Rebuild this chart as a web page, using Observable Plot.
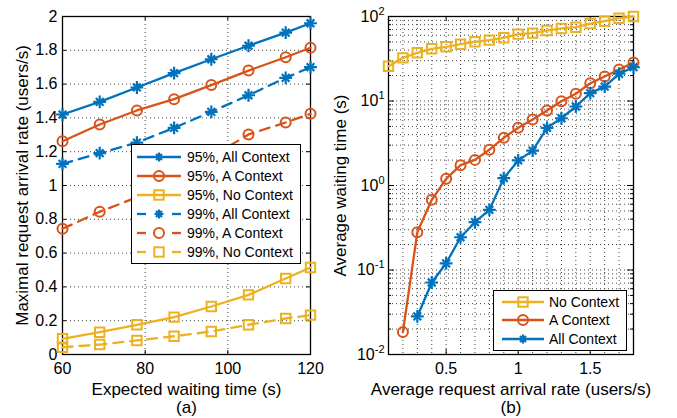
<!DOCTYPE html>
<html>
<head>
<meta charset="utf-8">
<script src="https://cdn.jsdelivr.net/npm/d3@7"></script>
<script src="https://cdn.jsdelivr.net/npm/@observablehq/plot@0.6"></script>
<style>
  html, body { margin: 0; padding: 0; background: #fff; }
  #wrap { position: relative; width: 677px; height: 418px; display: flex; font-family: 'Liberation Sans', Arial, Helvetica, sans-serif; color: #000; }
  .legend { position: absolute; background: #fff; border: 1px solid #000; box-sizing: border-box; font-size: 14px; }
  .legend .row { display: flex; align-items: center; }
  .legend svg { display: block; flex: none; }
</style>
</head>
<body>
<div id="wrap"></div>
<script>
// ---------- data: panel (a) ----------
const waitX = [60, 69, 78, 87, 96, 105, 114, 120];
const all95 = [1.42, 1.495, 1.58, 1.665, 1.747, 1.827, 1.905, 1.96];
const a95   = [1.262, 1.361, 1.444, 1.511, 1.594, 1.68, 1.759, 1.815];
const no95  = [0.093, 0.132, 0.176, 0.221, 0.284, 0.353, 0.45, 0.515];
const all99 = [1.128, 1.191, 1.254, 1.341, 1.436, 1.534, 1.637, 1.70];
const a99   = [0.744, 0.845, 0.93, 1.04, 1.17, 1.302, 1.373, 1.424];
const no99  = [0.043, 0.059, 0.083, 0.108, 0.136, 0.176, 0.213, 0.233];
const xTicksA = [60, 80, 100, 120];
const yTicksA = [0, 0.2, 0.4, 0.6, 0.8, 1, 1.2, 1.4, 1.6, 1.8, 2];
const legendA = ["95%, All Context", "95%, A Context", "95%, No Context", "99%, All Context", "99%, A Context", "99%, No Context"];

// ---------- data: panel (b) ----------
const rateX  = [0.1, 0.2, 0.3, 0.4, 0.5, 0.6, 0.7, 0.8, 0.9, 1.0, 1.1, 1.2, 1.3, 1.4, 1.5, 1.6, 1.7, 1.8];
const noCtx  = [25.8, 32.4, 37.2, 41.5, 43.8, 47.0, 50.2, 52.5, 56.0, 61.8, 63.5, 68.2, 72.2, 74.7, 82.6, 88.0, 95.5, 100];
const aCtx   = [null, 0.0184, 0.28, 0.677, 1.2, 1.74, 2.01, 2.65, 3.67, 4.82, 6.04, 7.72, 9.95, 12.2, 16.2, 19.5, 23.6, 28.6];
const allCtx = [null, null, 0.0282, 0.0711, 0.120, 0.244, 0.368, 0.515, 1.22, 1.98, 2.59, 4.82, 6.25, 8.61, 12.4, 14.8, 21.0, 25.1];
const xTicksB = [0.5, 1, 1.5];
const yTicksB = [0.01, 0.1, 1, 10, 100];
const yTickExpB = ["-2", "-1", "0", "1", "2"];
const legendB = ["No Context", "A Context", "All Context"];

// ---------- style ----------
const font = "'Liberation Sans', Arial, Helvetica, sans-serif";
const blue = "#0072BD", orange = "#D95319", yellow = "#EDB120";
const gridStyle = {stroke: "#444", strokeDasharray: "1,3", strokeWidth: 1};
const fmt = d3.format("~g");

function series(xs, ys, color, symbol, dash) {
  const rows = xs.map((x, i) => ({x, y: ys[i]})).filter(d => d.y != null);
  const marks = [Plot.line(rows, {x: "x", y: "y", stroke: color, strokeWidth: 2.3, strokeDasharray: dash, strokeLinejoin: "round"})];
  if (symbol === "asterisk") {
    marks.push(Plot.dot(rows, {x: "x", y: "y", stroke: color, strokeWidth: 2.2, symbol: "plus", r: 4.2}));
    marks.push(Plot.dot(rows, {x: "x", y: "y", stroke: color, strokeWidth: 2.2, symbol: "times", r: 3.6}));
  } else {
    marks.push(Plot.dot(rows, {x: "x", y: "y", stroke: color, strokeWidth: 2, symbol,
      r: symbol === "square" ? 5.3 : 5, fill: "none"}));
  }
  return marks;
}

function labels(xLabel, yLabel, sub, yDx) {
  return [
    Plot.text([xLabel], {text: d => d, frameAnchor: "bottom", dy: 35, fontSize: 17, lineAnchor: "middle", fill: "#000"}),
    Plot.text([sub], {text: d => d, frameAnchor: "bottom", dy: 53, fontSize: 17, lineAnchor: "middle", fill: "#000"}),
    Plot.text([yLabel], {text: d => d, frameAnchor: "left", dx: yDx, rotate: -90, fontSize: 17, textAnchor: "middle", lineAnchor: "middle", fill: "#000"})
  ];
}

// ---------- panel (a) ----------
const fwA = 248, fhA = 338;
const plotA = Plot.plot({
  width: 340, height: 418,
  marginLeft: 62, marginRight: 30, marginTop: 16, marginBottom: 64,
  style: {fontFamily: font, fontSize: "16px", color: "#000", background: "transparent", overflow: "visible"},
  x: {domain: [60, 120], ticks: xTicksA, tickFormat: fmt, label: null, tickSize: 0, tickPadding: 8},
  y: {domain: [0, 2], ticks: yTicksA, tickFormat: fmt, label: null, tickSize: 0, tickPadding: 5},
  marks: [
    Plot.ruleX(xTicksA.slice(1, -1), gridStyle),
    Plot.ruleY(yTicksA.slice(1, -1), gridStyle),
    Plot.tickY(yTicksA, {y: d => d, insetRight: fwA - 4, stroke: "#000"}),
    Plot.tickY(yTicksA, {y: d => d, insetLeft: fwA - 4, stroke: "#000"}),
    Plot.tickX(xTicksA, {x: d => d, insetTop: fhA - 4, stroke: "#000"}),
    Plot.tickX(xTicksA, {x: d => d, insetBottom: fhA - 4, stroke: "#000"}),
    Plot.frame({stroke: "#000", strokeWidth: 1.3}),
    ...series(waitX, all95, blue, "asterisk", null),
    ...series(waitX, a95, orange, "circle", null),
    ...series(waitX, no95, yellow, "square", null),
    ...series(waitX, all99, blue, "asterisk", "10,7"),
    ...series(waitX, a99, orange, "circle", "10,7"),
    ...series(waitX, no99, yellow, "square", "10,7"),
    ...labels("Expected waiting time (s)", "Maximal request arrival rate (users/s)", "(a)", -40)
  ]
});

// ---------- panel (b) ----------
const fwB = 245, fhB = 338;
const minorY = [];
for (let k = -2; k <= 1; k++) for (let m = 2; m <= 9; m++) minorY.push(m * Math.pow(10, k));
const minorX = d3.range(2, 18).map(i => i / 10);
const plotB = Plot.plot({
  width: 337, height: 418,
  marginLeft: 48, marginRight: 44, marginTop: 16, marginBottom: 64,
  style: {fontFamily: font, fontSize: "16px", color: "#000", background: "transparent", overflow: "visible"},
  x: {domain: [0.1, 1.8], ticks: xTicksB, tickFormat: fmt, label: null, tickSize: 0, tickPadding: 8},
  y: {type: "log", domain: [0.01, 100], ticks: yTicksB, tickFormat: d => "10^" + yTickExpB[yTicksB.indexOf(d)], label: null, tickSize: 0, tickPadding: 4},
  marks: [
    Plot.ruleX(minorX, gridStyle),
    Plot.ruleY(minorY.concat(yTicksB.slice(1, -1)), gridStyle),
    Plot.tickY(yTicksB, {y: d => d, insetRight: fwB - 6, stroke: "#000"}),
    Plot.tickY(yTicksB, {y: d => d, insetLeft: fwB - 6, stroke: "#000"}),
    Plot.tickY(minorY, {y: d => d, insetRight: fwB - 3, stroke: "#000"}),
    Plot.tickY(minorY, {y: d => d, insetLeft: fwB - 3, stroke: "#000"}),
    Plot.tickX(xTicksB, {x: d => d, insetTop: fhB - 5, stroke: "#000"}),
    Plot.tickX(xTicksB, {x: d => d, insetBottom: fhB - 5, stroke: "#000"}),
    Plot.frame({stroke: "#000", strokeWidth: 1.3}),
    ...series(rateX, noCtx, yellow, "square", null),
    ...series(rateX, aCtx, orange, "circle", null),
    ...series(rateX, allCtx, blue, "asterisk", null),
    ...labels("Average request arrival rate (users/s)", "Average waiting time (s)", "(b)", -48)
  ]
});

// superscript exponents on the log-axis tick labels
const svgns = "http://www.w3.org/2000/svg";
plotB.querySelectorAll("text").forEach(t => {
  const m = t.textContent.match(/^10\^(.+)$/);
  if (m) {
    t.textContent = "10";
    const ts = document.createElementNS(svgns, "tspan");
    ts.setAttribute("dy", "-7");
    ts.setAttribute("font-size", "11");
    ts.textContent = m[1];
    t.appendChild(ts);
  }
});

const wrap = document.getElementById("wrap");
wrap.appendChild(plotA);
wrap.appendChild(plotB);

// ---------- legends ----------
function swatch(color, symbol, dashed, w) {
  const h = 14, c = w / 2, y = 7;
  let line = dashed
    ? `<line x1="0" y1="${y}" x2="9" y2="${y}" stroke="${color}" stroke-width="2.3"/><line x1="${w - 9}" y1="${y}" x2="${w}" y2="${y}" stroke="${color}" stroke-width="2.3"/>`
    : `<line x1="0" y1="${y}" x2="${w}" y2="${y}" stroke="${color}" stroke-width="2.3"/>`;
  let mark = "";
  if (symbol === "circle") mark = `<circle cx="${c}" cy="${y}" r="5" fill="none" stroke="${color}" stroke-width="2"/>`;
  if (symbol === "square") mark = `<rect x="${c - 4.7}" y="${y - 4.7}" width="9.4" height="9.4" fill="none" stroke="${color}" stroke-width="2"/>`;
  if (symbol === "asterisk") mark = `<path d="M${c - 4.5},${y}H${c + 4.5}M${c},${y - 4.5}V${y + 4.5}M${c - 3},${y - 3}L${c + 3},${y + 3}M${c - 3},${y + 3}L${c + 3},${y - 3}" stroke="${color}" stroke-width="2.2"/>`;
  return `<svg width="${w}" height="${h}">${line}${mark}</svg>`;
}
function legend(items, box) {
  const div = document.createElement("div");
  div.className = "legend";
  Object.assign(div.style, {left: box.left + "px", top: box.top + "px", width: box.width + "px", height: box.height + "px", paddingTop: box.pt + "px", paddingLeft: box.pl + "px"});
  div.innerHTML = items.map(it =>
    `<div class="row" style="height:${box.rh}px">${swatch(it.color, it.symbol, it.dashed, box.sw)}<span style="margin-left:${box.gap}px">${it.label}</span></div>`
  ).join("");
  wrap.appendChild(div);
}
const colorsA = [blue, orange, yellow, blue, orange, yellow];
const symbolsA = ["asterisk", "circle", "square", "asterisk", "circle", "square"];
legend(legendA.map((label, i) => ({label, color: colorsA[i], symbol: symbolsA[i], dashed: i >= 3})),
  {left: 131, top: 144, width: 170, height: 120, pt: 2, pl: 5, rh: 19, sw: 44, gap: 6});
legend(legendB.map((label, i) => ({label, color: [yellow, orange, blue][i], symbol: ["square", "circle", "asterisk"][i], dashed: false})),
  {left: 493, top: 290, width: 134, height: 61, pt: 2, pl: 8, rh: 18.3, sw: 42, gap: 5});
</script>
</body>
</html>
